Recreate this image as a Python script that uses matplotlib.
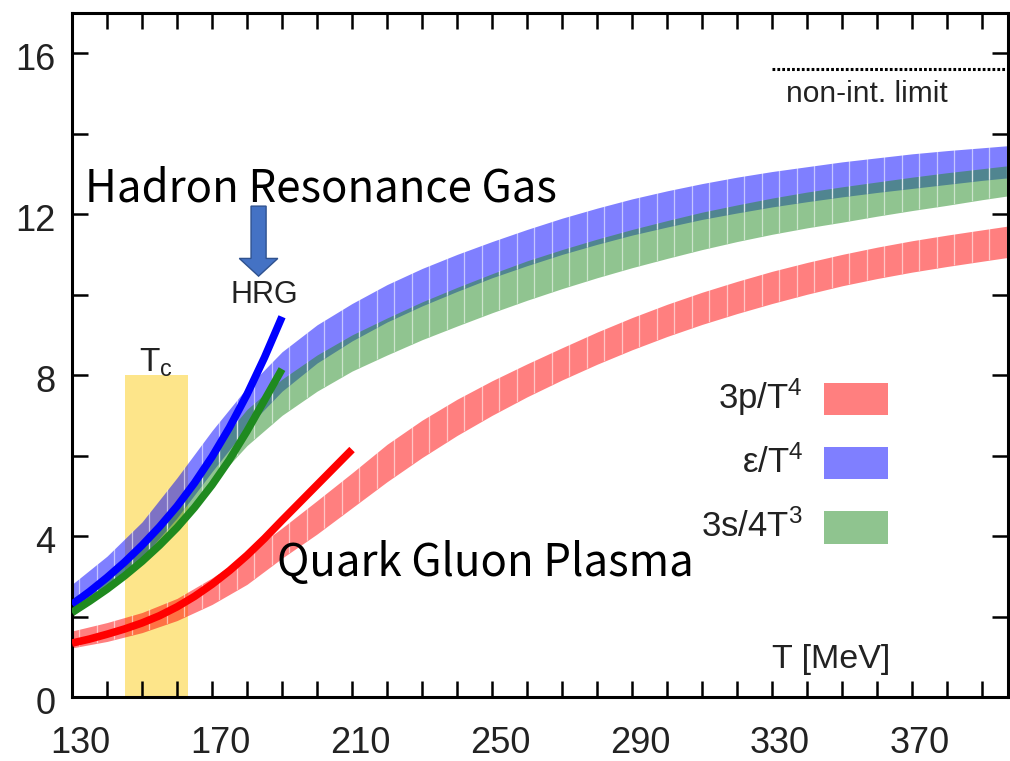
import numpy as np
import matplotlib
matplotlib.use("Agg")
import matplotlib.pyplot as plt
from matplotlib.ticker import MultipleLocator, FixedLocator
from matplotlib.transforms import ScaledTranslation

plt.rcParams['font.family'] = ['Liberation Sans', 'DejaVu Sans']
plt.rcParams['mathtext.fontset'] = 'custom'
plt.rcParams['mathtext.rm'] = 'Liberation Sans'
plt.rcParams['mathtext.it'] = 'Liberation Sans:italic'
plt.rcParams['mathtext.bf'] = 'Liberation Sans:bold'

# ---------------- data ----------------
T_band = [130, 140, 150, 160, 170, 180, 190, 200, 210, 220, 230, 240, 250, 260,
          270, 280, 290, 300, 310, 320, 330, 340, 350, 360, 370, 380, 390, 397]

p_lo = [1.22, 1.38, 1.60, 1.90, 2.30, 2.80, 3.45, 4.05, 4.70, 5.35, 5.95, 6.50, 7.00, 7.46,
        7.88, 8.27, 8.63, 8.96, 9.26, 9.53, 9.78, 10.01, 10.22, 10.40, 10.56, 10.70, 10.83, 10.92]
p_hi = [1.64, 1.85, 2.10, 2.45, 2.96, 3.55, 4.20, 4.88, 5.57, 6.28, 6.88, 7.40, 7.86, 8.28,
        8.68, 9.07, 9.43, 9.76, 10.06, 10.33, 10.58, 10.80, 11.00, 11.18, 11.34, 11.48, 11.61, 11.70]

e_lo = [2.20, 2.75, 3.45, 4.45, 5.60, 6.70, 7.60, 8.30, 8.85, 9.32, 9.72, 10.08, 10.42, 10.72,
        11.00, 11.25, 11.48, 11.68, 11.87, 12.03, 12.18, 12.31, 12.43, 12.54, 12.64, 12.74, 12.84, 12.90]
e_hi = [2.80, 3.50, 4.35, 5.45, 6.62, 7.69, 8.58, 9.25, 9.78, 10.25, 10.65, 11.00, 11.32, 11.62,
        11.90, 12.15, 12.38, 12.58, 12.76, 12.92, 13.06, 13.18, 13.30, 13.40, 13.50, 13.58, 13.65, 13.70]

s_lo = [2.00, 2.65, 3.40, 4.30, 5.30, 6.25, 7.00, 7.60, 8.10, 8.50, 8.88, 9.22, 9.55, 9.86,
        10.15, 10.42, 10.67, 10.90, 11.12, 11.32, 11.50, 11.66, 11.80, 11.95, 12.09, 12.22, 12.36, 12.45]
s_hi = [2.45, 3.00, 3.75, 4.85, 6.10, 7.15, 7.90, 8.50, 9.00, 9.42, 9.82, 10.18, 10.52, 10.84,
        11.12, 11.38, 11.62, 11.84, 12.05, 12.23, 12.40, 12.55, 12.68, 12.80, 12.92, 13.03, 13.13, 13.20]

T_hrg = [130, 135, 140, 145, 150, 155, 160, 165, 170, 175, 180, 185, 190]
hrg_e = [2.30, 2.62, 2.97, 3.35, 3.77, 4.23, 4.74, 5.32, 5.97, 6.70, 7.52, 8.44, 9.45]
hrg_s = [2.10, 2.38, 2.68, 3.01, 3.37, 3.77, 4.21, 4.71, 5.27, 5.90, 6.61, 7.38, 8.15]

T_hrg_p = [130, 135, 140, 145, 150, 155, 160, 165, 170, 175, 180, 185, 190, 195, 200, 205, 210]
hrg_p = [1.34, 1.44, 1.56, 1.69, 1.84, 2.02, 2.24, 2.50, 2.80, 3.14, 3.52, 3.94, 4.39, 4.83, 5.27, 5.71, 6.15]

Tc_range = [145, 163]
Tc_height = 8.0
sb_limit = 15.6

legend_labels = [r'3p/T$^{4}$', r'ε/T$^{4}$', r'3s/4T$^{3}$']
xtick_labels = [130, 170, 210, 250, 290, 330, 370]
ytick_labels = [0, 4, 8, 12, 16]

# ---------------- figure ----------------
fig = plt.figure(figsize=(10.10, 7.61), dpi=100)
ax = fig.add_axes([72/1010, 64/761, 936/1010, 684/761])
ax.set_xlim(130, 397.4)
ax.set_ylim(0, 17)

red_c = (1.0, 0.0, 0.0, 0.5)
blue_c = (0.0, 0.0, 1.0, 0.5)
green_c = (0.133, 0.545, 0.133, 0.5)

# Tc bar
ax.fill_between(Tc_range, 0, Tc_height, color='#FDE58A', lw=0, zorder=1)

sep_T = np.arange(132, 398, 5)
for lo, hi, c in [(p_lo, p_hi, red_c), (e_lo, e_hi, blue_c), (s_lo, s_hi, green_c)]:
    poly = ax.fill_between(T_band, lo, hi, color=c, lw=0, zorder=2)
    vl = ax.vlines(sep_T, 0, 17, colors='white', lw=0.9, alpha=0.55, zorder=2.5)
    vl.set_clip_path(poly.get_paths()[0], ax.transData)

# HRG lines
ax.plot(T_hrg_p, hrg_p, color='#ff0000', lw=5.5, solid_capstyle='butt',
        solid_joinstyle='round', zorder=4)
ax.plot(T_hrg, hrg_e, color='#0000ff', lw=5.5, solid_capstyle='butt',
        solid_joinstyle='round', zorder=4)
ax.plot(T_hrg, hrg_s, color='#1f8a1f', lw=5.5, solid_capstyle='butt',
        solid_joinstyle='round', zorder=4)

# non-interacting limit
ax.plot([330, 397.4], [sb_limit, sb_limit], color='black', lw=2.2,
        linestyle=(0, (0.9, 0.7)), zorder=4, clip_on=False)
ax.text(334.0, 14.78, 'non-int. limit', fontsize=21.5, color='#222222',
        ha='left', va='baseline')

# arrow
ax.arrow(183.3, 12.2, 0, -1.74, width=4.3, head_width=11.0, head_length=0.44,
         length_includes_head=True, fc='#4472C4', ec='#2F528F', lw=1.0, zorder=5)
ax.text(184.8, 9.98, 'HRG', fontsize=22, color='#222222', ha='center', va='center')
ax.text(154.0, 8.08, r'T$_\mathrm{c}$', fontsize=24, color='#222222',
        ha='center', va='baseline')

# big labels
cjk = ['Noto Sans CJK SC', 'DejaVu Sans']
ax.text(133.7, 12.32, 'Hadron Resonance Gas', fontsize=31.5, family=cjk,
        fontweight='light', color='black', ha='left', va='baseline', zorder=6)
ax.text(188.6, 3.0, 'Quark Gluon Plasma', fontsize=31.5, family=cjk,
        fontweight='light', color='black', ha='left', va='baseline', zorder=6)

ax.text(330.0, 0.72, 'T [MeV]', fontsize=24.5, color='#222222', ha='left', va='baseline')

# legend (manual)
sw_y = [0.4357, 0.3414, 0.2478]
sw_cols = ['#FF7F7F', '#7F7FFF', '#8FC48F']
for lab, yc, col in zip(legend_labels, sw_y, sw_cols):
    ax.add_patch(plt.Rectangle((0.8034, yc - 0.0234), 0.0684, 0.0468,
                               transform=ax.transAxes, color=col, lw=0, zorder=5))
    ax.text(0.781, yc - 0.014, lab, transform=ax.transAxes, fontsize=25,
            color='#222222', ha='right', va='baseline', zorder=5)

# ticks
ax.xaxis.set_major_locator(FixedLocator(xtick_labels))
ax.set_xticklabels([str(v) for v in xtick_labels])
ax.xaxis.set_minor_locator(MultipleLocator(10))
ax.yaxis.set_major_locator(FixedLocator(ytick_labels))
ax.set_yticklabels([str(v) for v in ytick_labels])
ax.yaxis.set_minor_locator(MultipleLocator(2))
ax.tick_params(which='both', direction='in', length=11.5, width=1.8,
               top=True, right=True, colors='black')
ax.tick_params(axis='x', which='major', labelsize=26, pad=21, labelcolor='#222222')
ax.tick_params(axis='y', which='major', labelsize=26, pad=12, labelcolor='#222222')
for sp in ax.spines.values():
    sp.set_linewidth(2.2)

off = ScaledTranslation(8/100, 0, fig.dpi_scale_trans)
for lbl in ax.get_xticklabels():
    lbl.set_transform(lbl.get_transform() + off)
offy = ScaledTranslation(0, -3/100, fig.dpi_scale_trans)
for lbl in ax.get_yticklabels():
    lbl.set_transform(lbl.get_transform() + offy)

fig.savefig('out.png', dpi=100)
